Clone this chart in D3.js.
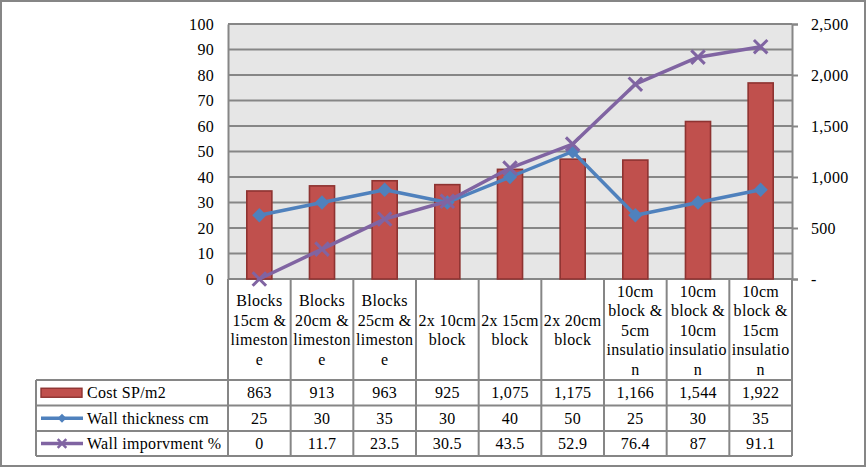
<!DOCTYPE html>
<html><head><meta charset="utf-8">
<script src="https://cdn.jsdelivr.net/npm/d3@7"></script>
<style>html,body{margin:0;padding:0;background:#fff;}svg{display:block;}</style>
</head><body>
<script>
const categories = ["Blocks 15cm & limestone","Blocks 20cm & limestone","Blocks 25cm & limestone","2x 10cm block","2x 15cm block","2x 20cm block","10cm block & 5cm insulation","10cm block & 10cm insulation","10cm block & 15cm insulation"];
const categoryLines = [["Blocks","15cm &","limeston","e"],["Blocks","20cm &","limeston","e"],["Blocks","25cm &","limeston","e"],["2x 10cm","block"],["2x 15cm","block"],["2x 20cm","block"],["10cm","block &","5cm","insulatio","n"],["10cm","block &","10cm","insulatio","n"],["10cm","block &","15cm","insulatio","n"]];
const costValues = [863,913,963,925,1075,1175,1166,1544,1922];
const thicknessValues = [25,30,35,30,40,50,25,30,35];
const improvementValues = [0,11.7,23.5,30.5,43.5,52.9,76.4,87,91.1];
const seriesNames = ["Cost SP/m2","Wall thickness cm","Wall imporvment %"];
const leftTicks = [0,10,20,30,40,50,60,70,80,90,100];
const rightTicks = [0,500,1000,1500,2000,2500];

const W=867,H=468;
const L=228,R=792,T=24,B=279;
const rowY=[380,405.5,431,456];
const tableLeft=36;
const grid="#868686";
const blue="#4f81bd", purple="#8064a2", red="#c0504d", redDark="#8e3331";
const FS=16, LS=0.3;
const FONT="Liberation Serif, Tinos, Times New Roman, DejaVu Serif, serif";

const svg=d3.select("body").append("svg").attr("width",W).attr("height",H);

svg.append("rect").attr("x",1).attr("y",1).attr("width",W-3).attr("height",H-3)
  .attr("fill","#fff").attr("stroke",grid).attr("stroke-width",2);

const idx=d3.range(categories.length);
const xCol=d3.scaleBand().domain(idx).range([L,R]).padding(0);
const xBar=d3.scaleBand().domain(idx).range([L,R]).paddingInner(0.6).paddingOuter(0.3);
const yL=d3.scaleLinear().domain([0,100]).range([B,T]);
const yR=d3.scaleLinear().domain([0,2500]).range([B,T]);

svg.append("rect").attr("x",L).attr("y",T).attr("width",R-L).attr("height",B-T).attr("fill","#e6e6e6");

svg.append("g").selectAll("line").data(leftTicks).join("line")
  .attr("x1",L).attr("x2",R).attr("y1",d=>yL(d)).attr("y2",d=>yL(d))
  .attr("stroke",grid).attr("stroke-width",2);

const gl=svg.append("g").attr("transform",`translate(${L},0)`)
  .call(d3.axisLeft(yL).tickValues(leftTicks).tickSize(0).tickPadding(14).tickFormat(d3.format("d")));
gl.attr("font-family",FONT).attr("font-size",FS).attr("letter-spacing",LS);
gl.select(".domain").attr("stroke",grid).attr("stroke-width",2);
gl.selectAll("text").attr("fill","#000");

const gr=svg.append("g").attr("transform",`translate(${R},0)`)
  .call(d3.axisRight(yR).tickValues(rightTicks).tickSize(6).tickPadding(13)
    .tickFormat(d=>d===0?"-":d3.format(",")(d)));
gr.attr("font-family",FONT).attr("font-size",FS).attr("letter-spacing",LS);
gr.select(".domain").attr("stroke",grid).attr("stroke-width",2);
gr.selectAll("line").attr("stroke",grid).attr("stroke-width",2);
gr.selectAll("text").attr("fill","#000");

svg.append("g").selectAll("rect").data(costValues).join("rect")
  .attr("x",(d,i)=>xBar(i)).attr("width",xBar.bandwidth())
  .attr("y",d=>yR(d)).attr("height",d=>B-yR(d))
  .attr("fill",red).attr("stroke",redDark).attr("stroke-width",1.6);

const cx=i=>xCol(i)+xCol.bandwidth()/2;

svg.append("path").datum(thicknessValues)
  .attr("d",d3.line().x((d,i)=>cx(i)).y(d=>yL(d)))
  .attr("fill","none").attr("stroke",blue).attr("stroke-width",3.5).attr("stroke-linejoin","round");
svg.append("g").selectAll("path").data(thicknessValues).join("path")
  .attr("d",d3.symbol().type(d3.symbolDiamond2).size(130))
  .attr("transform",(d,i)=>`translate(${cx(i)},${yL(d)})`).attr("fill",blue);

svg.append("path").datum(improvementValues)
  .attr("d",d3.line().x((d,i)=>cx(i)).y(d=>yL(d)))
  .attr("fill","none").attr("stroke",purple).attr("stroke-width",3.5).attr("stroke-linejoin","round");
svg.append("g").selectAll("path").data(improvementValues).join("path")
  .attr("d",d3.symbol().type(d3.symbolTimes).size(120))
  .attr("transform",(d,i)=>`translate(${cx(i)},${yL(d)})`)
  .attr("fill","none").attr("stroke",purple).attr("stroke-width",3);

const tg=svg.append("g").attr("stroke",grid).attr("stroke-width",2);
idx.concat([categories.length]).forEach(i=>{
  const x=i<categories.length?xCol(i):R;
  tg.append("line").attr("x1",x).attr("x2",x).attr("y1",B).attr("y2",rowY[3]);
});
tg.append("line").attr("x1",tableLeft).attr("x2",tableLeft).attr("y1",rowY[0]).attr("y2",rowY[3]);
rowY.forEach(y=>tg.append("line").attr("x1",tableLeft).attr("x2",R).attr("y1",y).attr("y2",y));

const txt=svg.append("g").attr("font-family",FONT).attr("font-size",FS).attr("letter-spacing",LS).attr("fill","#000");

const lh=19.5, catMid=330;
idx.forEach(i=>{
  const lines=categoryLines[i];
  const t=txt.append("text").attr("text-anchor","middle");
  lines.forEach((s,k)=>{
    t.append("tspan").attr("x",cx(i)).attr("y",catMid+(k-(lines.length-1)/2)*lh+5.5).text(s);
  });
});

const rows=[costValues.map(d3.format(",")),thicknessValues.map(String),improvementValues.map(String)];
rows.forEach((vals,r)=>{
  const yc=(rowY[r]+rowY[r+1])/2+5.5;
  txt.append("g").selectAll("text").data(vals).join("text")
    .attr("x",(d,i)=>cx(i)).attr("y",yc).attr("text-anchor","middle").text(d=>d);
  txt.append("text").attr("x",87).attr("y",yc).text(seriesNames[r]);
});

const ky=r=>(rowY[r]+rowY[r+1])/2;
svg.append("rect").attr("x",41).attr("y",ky(0)-4.5).attr("width",41).attr("height",9)
  .attr("fill",red).attr("stroke",redDark).attr("stroke-width",1.4);
svg.append("line").attr("x1",41).attr("x2",83).attr("y1",ky(1)).attr("y2",ky(1)).attr("stroke",blue).attr("stroke-width",3.5);
svg.append("path").attr("d",d3.symbol().type(d3.symbolDiamond2).size(50)).attr("transform",`translate(62,${ky(1)})`).attr("fill",blue);
svg.append("line").attr("x1",41).attr("x2",83).attr("y1",ky(2)).attr("y2",ky(2)).attr("stroke",purple).attr("stroke-width",3.5);
svg.append("path").attr("d",d3.symbol().type(d3.symbolTimes).size(50)).attr("transform",`translate(62,${ky(2)})`)
  .attr("fill","none").attr("stroke",purple).attr("stroke-width",2.5);
</script>
</body></html>
